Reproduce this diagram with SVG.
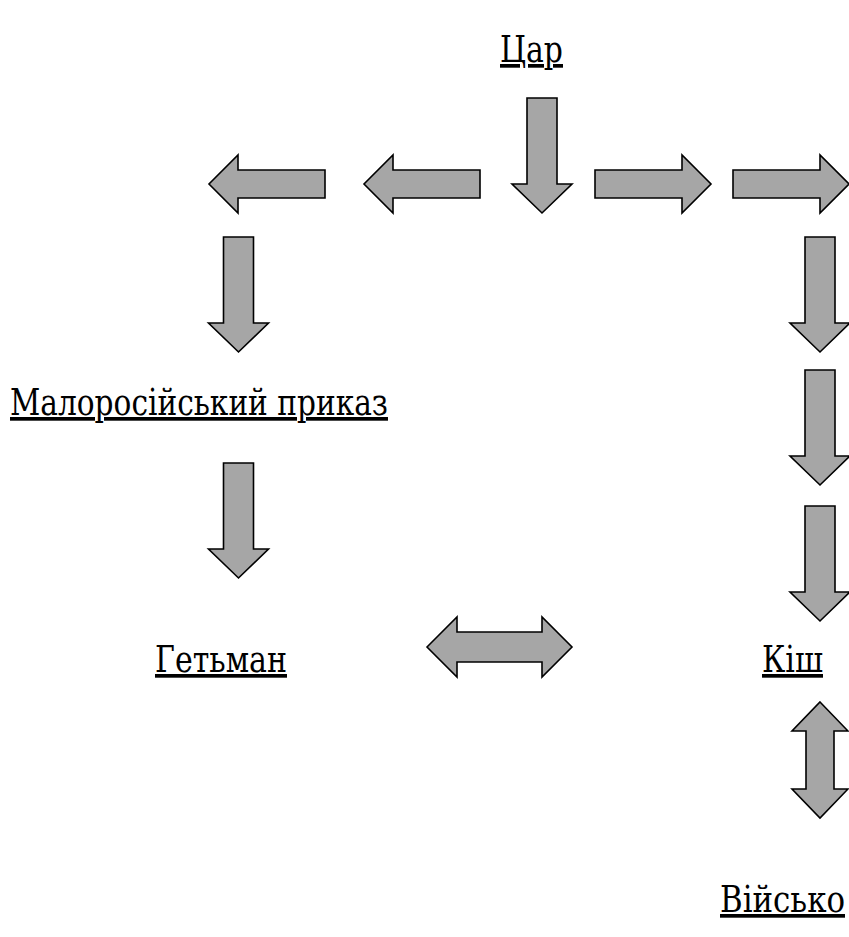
<svg xmlns="http://www.w3.org/2000/svg" xmlns:xlink="http://www.w3.org/1999/xlink" width="849" height="937" viewBox="0 0 849 937">
<style>
.lbl{font-family:'DejaVu Serif',serif;font-size:37px;fill:#000;text-decoration:underline}
.arr{fill:#a6a6a6;stroke:#000;stroke-width:1.6;stroke-linejoin:miter}
</style>
<defs>
<path id="down" d="M-15,0 H15 V86 H30 L0,115 L-30,86 H-15 Z"/>
<path id="right" d="M0,-14 H87 V-29 L116,0 L87,29 V14 H0 Z"/>
<path id="left" d="M0,-14 H-87 V-29 L-116,0 L-87,29 V14 H0 Z"/>
<path id="dblh" d="M0,0 L30,-30 V-15 H115 V-30 L145,0 L115,30 V15 H30 V30 Z"/>
<path id="dblv" d="M0,0 L28,29 H14 V87 H28 L0,116 L-28,87 H-14 V29 H-28 Z"/>
</defs>
<rect width="849" height="937" fill="#fff"/>
<g id="connectors">
<use xlink:href="#down" class="arr" transform="translate(542,98)"/>
<use xlink:href="#left" class="arr" transform="translate(325,184)"/>
<use xlink:href="#left" class="arr" transform="translate(480,184)"/>
<use xlink:href="#right" class="arr" transform="translate(595,184)"/>
<use xlink:href="#right" class="arr" transform="translate(733,184)"/>
<use xlink:href="#down" class="arr" transform="translate(238.5,237)"/>
<use xlink:href="#down" class="arr" transform="translate(238.5,463)"/>
<use xlink:href="#down" class="arr" transform="translate(820,237)"/>
<use xlink:href="#down" class="arr" transform="translate(820,370)"/>
<use xlink:href="#down" class="arr" transform="translate(820,506)"/>
<use xlink:href="#dblh" class="arr" transform="translate(427,647)"/>
<use xlink:href="#dblv" class="arr" transform="translate(820,702)"/>
</g>
<g id="tsar"><text class="lbl" x="500" y="62" textLength="63" lengthAdjust="spacingAndGlyphs">Цар</text></g>
<g id="prykaz"><text class="lbl" x="10" y="415" textLength="378" lengthAdjust="spacingAndGlyphs">Малоросійський приказ</text></g>
<g id="hetman"><text class="lbl" x="155" y="672" textLength="132" lengthAdjust="spacingAndGlyphs">Гетьман</text></g>
<g id="kish"><text class="lbl" x="762" y="672" textLength="61" lengthAdjust="spacingAndGlyphs">Кіш</text></g>
<g id="viysko"><text class="lbl" x="720" y="912" textLength="125" lengthAdjust="spacingAndGlyphs">Військо</text></g>
</svg>
